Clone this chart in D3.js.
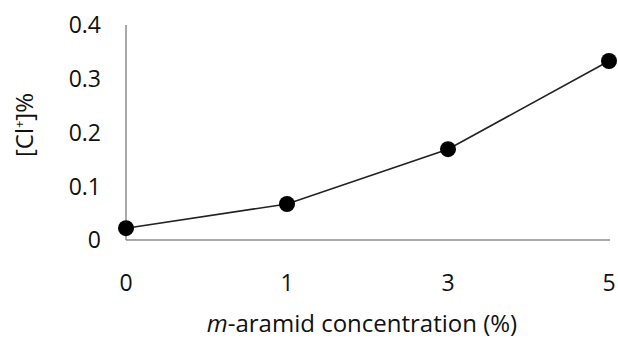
<!DOCTYPE html>
<html><head><meta charset="utf-8">
<script src="https://cdn.jsdelivr.net/npm/d3@7"></script>
<style>html,body{margin:0;padding:0;background:#fff;}svg{display:block;}</style>
</head><body>
<script>
const categories = ["0", "1", "3", "5"];
const values = [0.022, 0.067, 0.169, 0.333];
const yTicks = [0, 0.1, 0.2, 0.3, 0.4];

const W = 618, H = 340;
const svg = d3.select("body").append("svg").attr("width", W).attr("height", H);
const font = "'Open Sans', 'Noto Sans', sans-serif";

const x = d3.scalePoint().domain(categories).range([126, 609]);
const y = d3.scaleLinear().domain([0, 0.4]).range([240, 25]);

// axes lines
svg.append("line").attr("x1", 126).attr("x2", 126).attr("y1", y(0.4)).attr("y2", y(0))
  .attr("stroke", "#8c8c8c").attr("stroke-width", 1.5);
svg.append("line").attr("x1", 126).attr("x2", 610).attr("y1", y(0)).attr("y2", y(0))
  .attr("stroke", "#8c8c8c").attr("stroke-width", 1.5);

// y tick labels
svg.selectAll(".yt").data(yTicks).enter().append("text")
  .attr("x", 101).attr("y", d => y(d)).attr("dy", "0.36em")
  .attr("text-anchor", "end").attr("font-family", font).attr("font-size", 23).attr("fill", "#111")
  .text(d => d === 0 ? "0" : d3.format(".1f")(d));

// x tick labels
svg.selectAll(".xt").data(categories).enter().append("text")
  .attr("x", d => x(d)).attr("y", 283).attr("dy", "0.36em")
  .attr("text-anchor", "middle").attr("font-family", font).attr("font-size", 23).attr("fill", "#111")
  .text(d => d);

// line
const line = d3.line().x((d, i) => x(categories[i])).y(d => y(d));
svg.append("path").datum(values).attr("d", line).attr("fill", "none")
  .attr("stroke", "#222").attr("stroke-width", 1.6);

svg.selectAll(".pt").data(values).enter().append("circle")
  .attr("cx", (d, i) => x(categories[i])).attr("cy", d => y(d)).attr("r", 8).attr("fill", "#000");

// x title
const xt = svg.append("text").attr("x", 362).attr("y", 323).attr("dy", "0.36em")
  .attr("text-anchor", "middle").attr("font-family", font).attr("font-size", 24).attr("fill", "#111");
xt.append("tspan").attr("font-style", "italic").text("m");
xt.append("tspan").text("-aramid concentration (%)");

// y title
const yt = svg.append("text").attr("transform", "translate(24,125) rotate(-90)").attr("dy", "0.36em")
  .attr("text-anchor", "middle").attr("font-family", font).attr("font-size", 24).attr("fill", "#111");
yt.append("tspan").text("[Cl");
yt.append("tspan").attr("font-size", 13).attr("dy", "-0.7em").text("+");
yt.append("tspan").attr("dy", "0.4em").text("]%");
</script>
</body></html>
